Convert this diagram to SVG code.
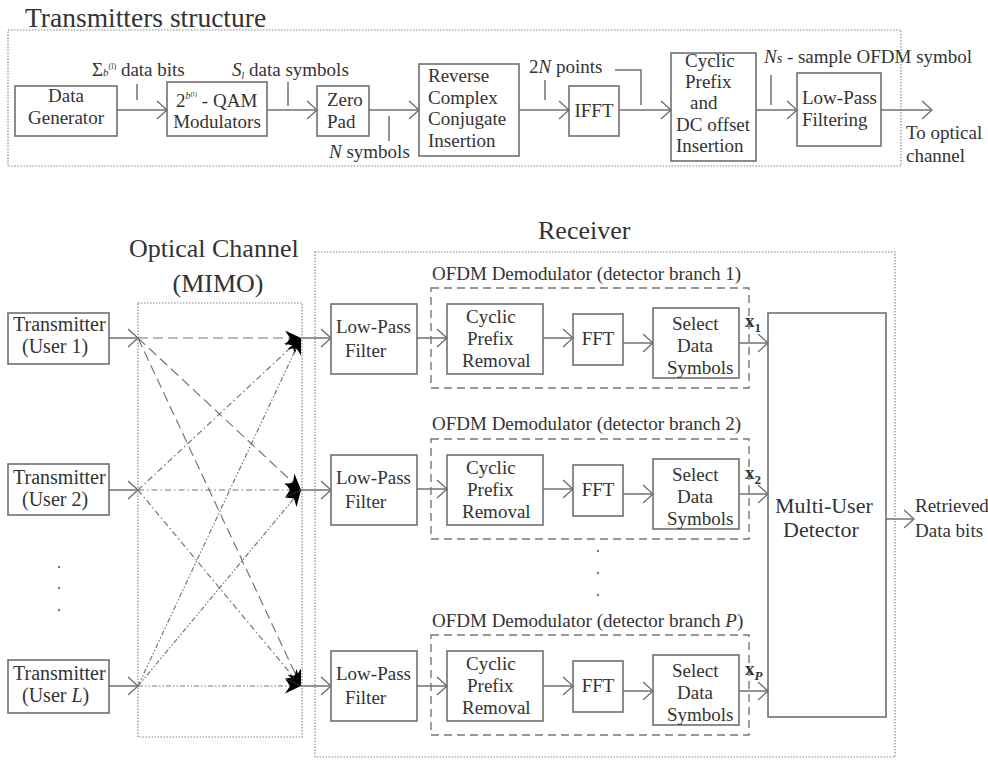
<svg xmlns="http://www.w3.org/2000/svg" width="988" height="766" viewBox="0 0 988 766">
<defs>
<style>
.box{fill:none;stroke:#707070;stroke-width:1.6}
.dot{fill:none;stroke:#888;stroke-width:1.2;stroke-dasharray:1.5 1.5}
.dash{fill:none;stroke:#777;stroke-width:1.4;stroke-dasharray:8 5}
.ln{fill:none;stroke:#707070;stroke-width:1.5}
.arr{marker-end:url(#chev)}
.ch{fill:none;stroke:#777;stroke-width:1.2;marker-end:url(#blk)}
.u1{stroke-dasharray:10 5}
.u2{stroke-dasharray:6 3 1.5 3}
.uL{stroke-dasharray:5 2 1.5 2 1.5 2}
.mid{text-anchor:middle}
</style>
<marker id="chev" markerUnits="userSpaceOnUse" markerWidth="12" markerHeight="22" refX="11" refY="11" orient="auto" viewBox="0 0 12 22">
<path d="M1,2 L11,11 L1,20" fill="none" stroke="#707070" stroke-width="1.4"/>
</marker>
<marker id="blk" markerUnits="userSpaceOnUse" markerWidth="17" markerHeight="15" refX="16" refY="7.5" orient="auto" viewBox="0 0 17 15">
<path d="M0,0 L16,7.5 L0,15 L5,7.5 Z" fill="#000"/>
</marker>
</defs>
<rect width="988" height="766" fill="#fff"/>
<g font-family="'Liberation Serif', 'Times New Roman', serif" font-size="19" fill="#333">

<!-- Transmitter structure -->
<text x="25" y="27" font-size="27.5">Transmitters structure</text>
<rect class="dot" x="8" y="30" width="893" height="136"/>

<g id="data-generator"><rect class="box" x="15" y="86" width="102" height="50"/><text class="mid" x="66" y="102">Data</text><text class="mid" x="66" y="124">Generator</text></g>
<g id="qam"><rect class="box" x="167" y="82" width="100" height="54"/><text x="176" y="107">2<tspan font-size="10" dy="-8" font-style="italic">b</tspan><tspan font-size="7" dy="-3">(l)</tspan><tspan dy="11"> - QAM</tspan></text><text class="mid" x="217" y="128">Modulators</text></g>
<g id="zero-pad"><rect class="box" x="317" y="86" width="52" height="50"/><text x="327" y="106">Zero</text><text x="327" y="128">Pad</text></g>
<g id="rcci"><rect class="box" x="419" y="64" width="100" height="92"/><text x="428" y="82">Reverse</text><text x="428" y="104">Complex</text><text x="428" y="125">Conjugate</text><text x="428" y="147">Insertion</text></g>
<g id="ifft"><rect class="box" x="569" y="86" width="50" height="50"/><text class="mid" x="594" y="117">IFFT</text></g>
<g id="cp-insert"><rect class="box" x="671" y="53" width="85" height="108"/><text x="685" y="67">Cyclic</text><text x="685" y="88">Prefix</text><text x="690" y="109">and</text><text x="676" y="131">DC offset</text><text x="676" y="152">Insertion</text></g>
<g id="lp-filtering"><rect class="box" x="797" y="73" width="84" height="73"/><text x="802" y="104">Low-Pass</text><text x="802" y="126">Filtering</text></g>

<g id="top-labels">
<text x="92" y="76">Σ<tspan font-size="11" font-style="italic">b</tspan><tspan font-size="8" dy="-7">(l)</tspan><tspan dy="7"> data bits</tspan></text>
<text x="232" y="76"><tspan font-style="italic">S</tspan><tspan font-size="10" font-style="italic" dy="3">l</tspan><tspan dy="-3"> data symbols</tspan></text>
<text x="329" y="158"><tspan font-style="italic">N</tspan> symbols</text>
<text x="529" y="73">2<tspan font-style="italic">N</tspan> points</text>
<text x="764" y="63"><tspan font-style="italic">N</tspan><tspan font-style="italic" font-size="14">s</tspan> - sample OFDM symbol</text>
<text x="906" y="139">To optical</text>
<text x="906" y="162">channel</text>
</g>

<g id="top-connectors">
<line class="ln arr" x1="117" y1="110" x2="167" y2="110"/>
<line class="ln arr" x1="267" y1="110" x2="317" y2="110"/>
<line class="ln arr" x1="369" y1="110" x2="419" y2="110"/>
<line class="ln arr" x1="519" y1="110" x2="569" y2="110"/>
<line class="ln arr" x1="619" y1="110" x2="671" y2="110"/>
<line class="ln arr" x1="756" y1="110" x2="797" y2="110"/>
<line class="ln arr" x1="881" y1="110" x2="932" y2="110"/>
<line class="ln" x1="137" y1="84" x2="137" y2="100"/>
<line class="ln" x1="288" y1="82" x2="288" y2="106"/>
<line class="ln" x1="389" y1="116" x2="389" y2="141"/>
<line class="ln" x1="545" y1="80" x2="545" y2="100"/>
<path class="ln" d="M615,70 H641 V105"/>
<line class="ln" x1="771" y1="75" x2="771" y2="105"/>
</g>

<!-- Bottom -->
<text x="129" y="257" font-size="26">Optical Channel</text>
<text class="mid" x="218" y="292" font-size="26">(MIMO)</text>
<text x="538" y="239" font-size="26">Receiver</text>
<rect class="dot" x="138" y="303" width="164" height="434"/>
<rect class="dot" x="315" y="252" width="580" height="505"/>

<g id="tx-user1"><rect class="box" x="8" y="313" width="101" height="51"/><text x="13" y="331" font-size="20">Transmitter</text><text x="22" y="353" font-size="20">(User 1)</text></g>
<g id="tx-user2"><rect class="box" x="8" y="464" width="101" height="51"/><text x="13" y="484" font-size="20">Transmitter</text><text x="22" y="506" font-size="20">(User 2)</text></g>
<g id="tx-userL"><rect class="box" x="8" y="660" width="101" height="53"/><text x="13" y="680" font-size="20">Transmitter</text><text x="22" y="702" font-size="20">(User <tspan font-style="italic">L</tspan>)</text></g>
<g id="tx-dots" fill="#777"><circle cx="59" cy="567" r="1.2"/><circle cx="59" cy="588" r="1.2"/><circle cx="59" cy="610" r="1.2"/></g>

<g id="channel-connectors">
<line class="ln arr" x1="109" y1="338" x2="138" y2="338"/>
<line class="ln arr" x1="109" y1="490" x2="138" y2="490"/>
<line class="ln arr" x1="109" y1="686" x2="138" y2="686"/>
<line class="ch u1" x1="138" y1="338" x2="301" y2="338"/>
<line class="ch u1" x1="138" y1="338" x2="301" y2="490"/>
<line class="ch u1" x1="138" y1="338" x2="301" y2="686"/>
<line class="ch u2" x1="138" y1="490" x2="301" y2="338"/>
<line class="ch u2" x1="138" y1="490" x2="301" y2="490"/>
<line class="ch u2" x1="138" y1="490" x2="301" y2="686"/>
<line class="ch uL" x1="138" y1="686" x2="301" y2="338"/>
<line class="ch uL" x1="138" y1="686" x2="301" y2="490"/>
<line class="ch uL" x1="138" y1="686" x2="301" y2="686"/>
<line class="ln arr" x1="301" y1="338" x2="331" y2="338"/>
<line class="ln arr" x1="301" y1="490" x2="331" y2="490"/>
<line class="ln arr" x1="301" y1="686" x2="331" y2="686"/>
</g>

<!-- Branch 1 -->
<g id="branch1">
<text x="432" y="280">OFDM Demodulator (detector branch 1)</text>
<rect class="dash" x="431" y="288" width="318" height="100"/>
</g>
<g id="lpf1"><rect class="box" x="331" y="304" width="86" height="70"/><text x="336" y="333">Low-Pass</text><text x="345" y="357">Filter</text></g>
<g id="cpr1"><rect class="box" x="447" y="304" width="96" height="70"/><text x="466" y="323">Cyclic</text><text x="467" y="345">Prefix</text><text x="462" y="367">Removal</text></g>
<g id="fft1"><rect class="box" x="573" y="314" width="50" height="51"/><text class="mid" x="598" y="345">FFT</text></g>
<g id="sel1"><rect class="box" x="653" y="308" width="86" height="70"/><text x="672" y="330">Select</text><text x="677" y="352">Data</text><text x="667" y="374">Symbols</text></g>

<!-- Branch 2 -->
<g id="branch2">
<text x="432" y="430">OFDM Demodulator (detector branch 2)</text>
<rect class="dash" x="431" y="439" width="318" height="100"/>
</g>
<g id="lpf2"><rect class="box" x="331" y="455" width="86" height="70"/><text x="336" y="484">Low-Pass</text><text x="345" y="508">Filter</text></g>
<g id="cpr2"><rect class="box" x="447" y="455" width="96" height="70"/><text x="466" y="474">Cyclic</text><text x="467" y="496">Prefix</text><text x="462" y="518">Removal</text></g>
<g id="fft2"><rect class="box" x="573" y="465" width="50" height="51"/><text class="mid" x="598" y="496">FFT</text></g>
<g id="sel2"><rect class="box" x="653" y="459" width="86" height="70"/><text x="672" y="481">Select</text><text x="677" y="503">Data</text><text x="667" y="525">Symbols</text></g>

<g id="rx-dots" fill="#777"><circle cx="598" cy="551" r="1.2"/><circle cx="598" cy="573" r="1.2"/><circle cx="598" cy="595" r="1.2"/></g>

<!-- Branch P -->
<g id="branchP">
<text x="432" y="627">OFDM Demodulator (detector branch <tspan font-style="italic">P</tspan>)</text>
<rect class="dash" x="431" y="635" width="318" height="100"/>
</g>
<g id="lpfP"><rect class="box" x="331" y="651" width="86" height="70"/><text x="336" y="680">Low-Pass</text><text x="345" y="704">Filter</text></g>
<g id="cprP"><rect class="box" x="447" y="651" width="96" height="70"/><text x="466" y="670">Cyclic</text><text x="467" y="692">Prefix</text><text x="462" y="714">Removal</text></g>
<g id="fftP"><rect class="box" x="573" y="661" width="50" height="51"/><text class="mid" x="598" y="692">FFT</text></g>
<g id="selP"><rect class="box" x="653" y="655" width="86" height="70"/><text x="672" y="677">Select</text><text x="677" y="699">Data</text><text x="667" y="721">Symbols</text></g>

<g id="mud"><rect class="box" x="768" y="313" width="118" height="404"/><text x="775" y="513" font-size="22">Multi-User</text><text x="783" y="537" font-size="22">Detector</text></g>
<g id="output-label"><text x="915" y="512">Retrieved</text><text x="915" y="537">Data bits</text></g>

<g id="x-labels" font-weight="bold">
<text x="745" y="327">x<tspan font-size="13" dy="5">1</tspan></text>
<text x="745" y="479">x<tspan font-size="13" dy="5">2</tspan></text>
<text x="745" y="675">x<tspan font-size="13" dy="5" font-style="italic">P</tspan></text>
</g>

<g id="rx-connectors">
<line class="ln arr" x1="417" y1="338" x2="447" y2="338"/>
<line class="ln arr" x1="543" y1="338" x2="573" y2="338"/>
<line class="ln arr" x1="623" y1="343" x2="653" y2="343"/>
<line class="ln arr" x1="739" y1="343" x2="768" y2="343"/>
<line class="ln arr" x1="417" y1="489" x2="447" y2="489"/>
<line class="ln arr" x1="543" y1="489" x2="573" y2="489"/>
<line class="ln arr" x1="623" y1="494" x2="653" y2="494"/>
<line class="ln arr" x1="739" y1="494" x2="768" y2="494"/>
<line class="ln arr" x1="417" y1="686" x2="447" y2="686"/>
<line class="ln arr" x1="543" y1="686" x2="573" y2="686"/>
<line class="ln arr" x1="623" y1="691" x2="653" y2="691"/>
<line class="ln arr" x1="739" y1="691" x2="768" y2="691"/>
<line class="ln arr" x1="886" y1="519" x2="914" y2="519"/>
</g>
</g>
</svg>
